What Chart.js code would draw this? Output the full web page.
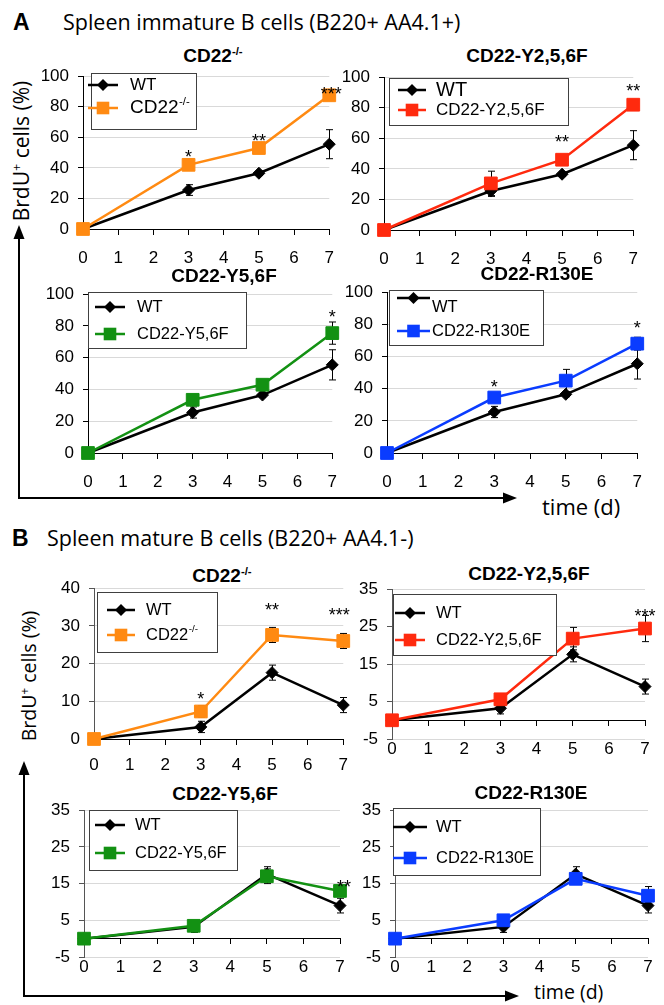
<!DOCTYPE html>
<html>
<head>
<meta charset="utf-8">
<script src="https://cdn.jsdelivr.net/npm/chart.js@4.4.1/dist/chart.umd.min.js"></script>
<style>
body { margin: 0; background: #fff; }
#fig { position: relative; width: 664px; height: 1005px; overflow: hidden; background: #fff; font-family: "Liberation Sans", Arial, sans-serif; color: #000; }
#fig canvas { position: absolute; }
#fig svg { position: absolute; left: 0; top: 0; }
.t { position: absolute; white-space: nowrap; line-height: 1; }
.c { transform: translate(-50%, -50%); }
.l { transform: translateY(-50%); }
.ttl { font-weight: bold; font-size: 19px; }
.ttl sup, .yl sup { font-size: 0.6em; vertical-align: 0.6em; line-height: 0; }
.big { font-weight: bold; font-size: 23px; }
.hd { font-family: "Open Sans", sans-serif; font-size: 21.5px; }
.yl { font-family: "Open Sans", sans-serif; transform: translate(-50%, -50%) rotate(-90deg); }
.tm { font-family: "Open Sans", sans-serif; }
</style>
</head>
<body>
<div id="fig">
  <svg width="664" height="1005">
    <g stroke="#000" stroke-width="2" fill="none">
      <path d="M19 499 V236 M18 498 H506"/>
      <path d="M24 997 V772 M23 996 H508"/>
    </g>
    <g fill="#000">
      <polygon points="19,225 13.5,239 24.5,239"/>
      <polygon points="517,498 503,492.5 503,503.5"/>
      <polygon points="24,761 18.5,775 29.5,775"/>
      <polygon points="519,996 505,990.5 505,1001.5"/>
    </g>
  </svg>
  <div class="t l big" style="left:13px;top:22px">A</div>
  <div class="t l hd" style="left:63px;top:22px">Spleen immature B cells (B220+ AA4.1+)</div>
  <div class="t l big" style="left:12px;top:538px">B</div>
  <div class="t l hd" style="left:47px;top:538px">Spleen mature B cells (B220+ AA4.1-)</div>
  <div class="t yl" style="left:21px;top:151px;font-size:21px">BrdU<sup>+</sup> cells (%)</div>
  <div class="t yl" style="left:29px;top:676px;font-size:19.5px">BrdU<sup>+</sup> cells (%)</div>
  <div class="t l tm" style="left:542px;top:506px;font-size:22px">time (d)</div>
  <div class="t l tm" style="left:534px;top:992px;font-size:19.5px">time (d)</div>
</div>
<script>
// time points and axis ticks
const days = [0, 3, 5, 7];
const xTicks = [0, 1, 2, 3, 4, 5, 6, 7];
const yTicksA = [0, 20, 40, 60, 80, 100];
const yTicksB1 = [0, 10, 20, 30, 40];
const yTicksB = [-5, 5, 15, 25, 35];

// A: immature B cells
const wtA = [0, 25.5, 36.5, 55.5];
const wtAErr = [0, 3.5, 1.5, 9.5];
const koA = [0, 42, 53, 87.5];
const koAErr = [0, 3.5, 1.5, 2.5];
const y256A = [0, 30.5, 46, 82];
const y256AErr = [0, 8, 1.5, 2.5];
const y56A = [0, 33.5, 43, 75.5];
const y56AErr = [0, 3, 2, 7];
const r130A = [0, 34.5, 45, 68];
const r130AErr = [0, 2.5, 7, 4];

// B: mature B cells
const wtB = [0, 3.2, 17.6, 9.0];
const wtBErr = [0, 1.5, 2, 2];
const koB = [0, 7.3, 27.6, 26];
const koBErr = [0, 1.5, 2, 2];
const y256B = [0, 5.6, 21.8, 24.5];
const y256BErr = [0, 0.8, 3, 3.5];
const y56B = [0, 3.5, 17, 13];
const y56BErr = [0, 0.8, 2, 1.5];
const r130B = [0, 5, 16.3, 11.7];
const r130BErr = [0, 0.8, 1.5, 2.5];

// significance marks
const starsKoA = ['', '*', '**', '***'];
const starsY256A = ['', '', '**', '**'];
const starsY56A = ['', '', '', '*'];
const starsR130A = ['', '*', '', '*'];
const starsKoB = ['', '*', '**', '***'];
const starsY256B = ['', '', '', '***'];
const starsY56B = ['', '', '', '**'];
const starsR130B = ['', '', '', ''];

const ORANGE = '#FF8A12', RED = '#FF2A0E', GREEN = '#139113', BLUE = '#0A3CFF';

const panels = [
  { L: 83, R: 339, T: 71, B: 229, min: 0, max: 100, yTicks: yTicksA, tx: 213, ty: 55,
    wt: wtA, wtErr: wtAErr, mut: koA, mutErr: koAErr, stars: starsKoA, label: 'CD22^-/-', color: ORANGE,
    axis: '#000', xPad: 19, starOff: [0, 12, 12, 6], starDx: [0, 0, 0, 2],
    legend: { dx: 8, dy: -3, w: 105, h: 56, sx: -3, sw: 30, tx: 39, rows: [[12, 12, 17], [35, 35, 19]] } },
  { L: 384, R: 643, T: 72, B: 230, min: 0, max: 100, yTicks: yTicksA, tx: 527, ty: 55,
    wt: wtA, wtErr: wtAErr, mut: y256A, mutErr: y256AErr, stars: starsY256A, label: 'CD22-Y2,5,6F', color: RED,
    axis: '#000', xPad: 19, starOff: [0, 0, 22, 18], starDx: [0, 0, 0, 0],
    legend: { dx: 5, dy: 1, w: 179, h: 47, sx: 9, sw: 28, tx: 47, rows: [[12, 12, 20], [32, 32, 17]] } },
  { L: 88, R: 342, T: 289, B: 453, min: 0, max: 100, yTicks: yTicksA, tx: 224, ty: 275,
    wt: wtA, wtErr: wtAErr, mut: y56A, mutErr: y56AErr, stars: starsY56A, label: 'CD22-Y5,6F', color: GREEN,
    axis: '#000', xPad: 19, starOff: [0, 0, 0, 21], starDx: [0, 0, 0, 0],
    legend: { dx: 0, dy: -2, w: 158, h: 56, sx: 7, sw: 30, tx: 49, rows: [[15, 15, 16.5], [42, 42, 16.5]] } },
  { L: 387, R: 647, T: 287, B: 453, min: 0, max: 100, yTicks: yTicksA, tx: 537, ty: 273,
    wt: wtA, wtErr: wtAErr, mut: r130A, mutErr: r130AErr, stars: starsR130A, label: 'CD22-R130E', color: BLUE,
    axis: '#000', xPad: 19, starOff: [0, 15, 0, 20], starDx: [0, 0, 0, 0],
    legend: { dx: 2, dy: -2, w: 154, h: 55, sx: 8, sw: 33, tx: 43, rows: [[8, 17, 16.5], [41, 41, 16.5]] } },
  { L: 94, R: 350, T: 583, B: 739, min: 0, max: 40, yTicks: yTicksB1, tx: 222, ty: 575,
    wt: wtB, wtErr: wtBErr, mut: koB, mutErr: koBErr, stars: starsKoB, label: 'CD22^-/-', color: ORANGE,
    axis: '#555', xPad: 16, starOff: [0, 17, 29, 30], starDx: [0, 0, 0, -4],
    legend: { dx: 3, dy: 4, w: 120, h: 60, sx: 10, sw: 28, tx: 49, rows: [[18, 18, 16.5], [43, 43, 16.5]] } },
  { L: 392, R: 645, T: 584, B: 739, min: -5, max: 35, yTicks: yTicksB, tx: 529, ty: 573,
    wt: wtB, wtErr: wtBErr, mut: y256B, mutErr: y256BErr, stars: starsY256B, label: 'CD22-Y2,5,6F', color: RED,
    axis: '#555', xPad: 0, starOff: [0, 0, 0, 17], starDx: [0, 0, 0, 0],
    legend: { dx: 1, dy: 5, w: 163, h: 61, sx: 2, sw: 30, tx: 43, rows: [[19, 19, 16.5], [46, 46, 16.5]] } },
  { L: 84, R: 340, T: 805, B: 957, min: -5, max: 35, yTicks: yTicksB, tx: 225, ty: 793,
    wt: wtB, wtErr: wtBErr, mut: y56B, mutErr: y56BErr, stars: starsY56B, label: 'CD22-Y5,6F', color: GREEN,
    axis: '#555', xPad: 0, starOff: [0, 0, 0, 8], starDx: [0, 0, 0, 4],
    legend: { dx: 5, dy: 0, w: 148, h: 60, sx: 6, sw: 30, tx: 46, rows: [[15, 15, 16.5], [43, 43, 16.5]] } },
  { L: 395, R: 648, T: 805, B: 957, min: -5, max: 35, yTicks: yTicksB, tx: 531, ty: 792,
    wt: wtB, wtErr: wtBErr, mut: r130B, mutErr: r130BErr, stars: starsR130B, label: 'CD22-R130E', color: BLUE,
    axis: '#555', xPad: 0, starOff: [0, 0, 0, 0], starDx: [0, 0, 0, 0],
    legend: { dx: -2, dy: -2, w: 147, h: 67, sx: 0, sw: 34, tx: 43, rows: [[19, 19, 16.5], [50, 50, 16.5]] } }
];

Chart.defaults.font.family = '"Liberation Sans", Arial, sans-serif';
Chart.defaults.font.size = 17;
Chart.defaults.color = '#000';

function supHtml(s) {
  const parts = s.split('^');
  return parts[0] + (parts[1] ? '<sup>' + parts[1] + '</sup>' : '');
}

// text with optional superscript part after '^'
function drawRich(ctx, s, x, y, size) {
  const parts = s.split('^');
  ctx.textAlign = 'left';
  ctx.textBaseline = 'middle';
  ctx.font = size + 'px "Liberation Sans", Arial, sans-serif';
  ctx.fillText(parts[0], x, y);
  if (parts[1]) {
    const w = ctx.measureText(parts[0]).width;
    ctx.font = (size * 0.6) + 'px "Liberation Sans", Arial, sans-serif';
    ctx.fillText(parts[1], x + w + 0.5, y - size * 0.33);
  }
}

function drawMarker(ctx, style, x, y, color) {
  ctx.fillStyle = color;
  ctx.beginPath();
  if (style === 'rectRot') {
    ctx.moveTo(x - 6, y); ctx.lineTo(x, y - 6); ctx.lineTo(x + 6, y); ctx.lineTo(x, y + 6);
    ctx.closePath();
  } else {
    ctx.rect(x - 6.3, y - 6.3, 12.6, 12.6);
  }
  ctx.fill();
}

function makePlugin(p) {
  return {
    id: 'figExtras',
    beforeDatasetsDraw(chart) {
      const ctx = chart.ctx, xs = chart.scales.x, ys = chart.scales.y;
      ctx.save();
      ctx.strokeStyle = '#000';
      ctx.lineWidth = 1;
      chart.data.datasets.forEach(ds => {
        ds.err.forEach((e, i) => {
          if (!e) return;
          const px = Math.round(xs.getPixelForValue(days[i])) + 0.5;
          const top = ys.getPixelForValue(ds.data[i].y + e);
          const bot = ys.getPixelForValue(ds.data[i].y - e);
          ctx.beginPath();
          ctx.moveTo(px, top); ctx.lineTo(px, bot);
          ctx.moveTo(px - 3.5, top); ctx.lineTo(px + 3.5, top);
          ctx.moveTo(px - 3.5, bot); ctx.lineTo(px + 3.5, bot);
          ctx.stroke();
        });
      });
      ctx.restore();
    },
    afterDatasetsDraw(chart) {
      const ctx = chart.ctx, xs = chart.scales.x, ys = chart.scales.y;
      ctx.save();
      ctx.fillStyle = '#000';
      ctx.font = '18px "Liberation Sans", Arial, sans-serif';
      ctx.textAlign = 'center';
      ctx.textBaseline = 'alphabetic';
      p.stars.forEach((s, i) => {
        if (!s) return;
        const px = xs.getPixelForValue(days[i]) + p.starDx[i];
        const py = ys.getPixelForValue(p.mut[i]) - p.starOff[i];
        ctx.fillText(s, px, py + 10.5);
      });
      ctx.restore();
    },
    afterDraw(chart) {
      const ctx = chart.ctx, lg = p.legend;
      const x0 = Math.round(chart.chartArea.left + lg.dx), y0 = Math.round(chart.chartArea.top + lg.dy);
      ctx.save();
      ctx.fillStyle = '#fff';
      ctx.fillRect(x0, y0, lg.w, lg.h);
      ctx.strokeStyle = '#404040';
      ctx.lineWidth = 1;
      ctx.strokeRect(x0 + 0.5, y0 + 0.5, lg.w, lg.h);
      chart.data.datasets.forEach((ds, i) => {
        const [ly, ty, size] = lg.rows[i];
        const sx = x0 + lg.sx, y = y0 + ly;
        ctx.strokeStyle = ds.borderColor;
        ctx.lineWidth = 2.5;
        ctx.beginPath();
        ctx.moveTo(sx, y); ctx.lineTo(sx + lg.sw, y);
        ctx.stroke();
        drawMarker(ctx, ds.pointStyle, sx + lg.sw / 2, y, ds.borderColor);
        ctx.fillStyle = '#000';
        drawRich(ctx, ds.label, x0 + lg.tx, y0 + ty, size);
      });
      ctx.restore();
    }
  };
}

const fig = document.getElementById('fig');
panels.forEach(p => {
  const title = document.createElement('div');
  title.className = 't c ttl';
  title.style.left = p.tx + 'px';
  title.style.top = p.ty + 'px';
  title.innerHTML = supHtml(p.label);
  fig.appendChild(title);

  const cv = document.createElement('canvas');
  const cl = p.L - 45, ct = p.T - 14;
  const w = p.R - cl + 14, h = p.B - ct + 42;
  cv.width = w; cv.height = h;
  cv.style.left = cl + 'px'; cv.style.top = ct + 'px';
  cv.style.width = w + 'px'; cv.style.height = h + 'px';
  fig.appendChild(cv);

  const pts = vals => days.map((d, i) => ({ x: d, y: vals[i] }));
  new Chart(cv, {
    type: 'line',
    data: {
      datasets: [
        { label: 'WT', data: pts(p.wt), err: p.wtErr, order: 1, xAxisID: 'x', yAxisID: 'y',
          borderColor: '#000', backgroundColor: '#000', pointStyle: 'rectRot', pointRadius: 6,
          pointBorderWidth: 1, borderWidth: 2.5, tension: 0, clip: false },
        { label: p.label, data: pts(p.mut), err: p.mutErr, order: 0, xAxisID: 'x', yAxisID: 'y',
          borderColor: p.color, backgroundColor: p.color, pointStyle: 'rect', pointRadius: 9,
          pointBorderWidth: 1, borderWidth: 2.5, tension: 0, clip: false }
      ]
    },
    options: {
      responsive: false,
      animation: false,
      events: [],
      layout: { padding: { left: 0, top: 14, right: 14, bottom: 2 } },
      plugins: { legend: { display: false }, tooltip: { enabled: false }, title: { display: false } },
      scales: {
        x: {
          type: 'linear', position: { y: 0 }, min: 0, max: 7,
          ticks: { display: false, stepSize: 1 },
          grid: { drawOnChartArea: false, drawTicks: true, tickLength: 5, tickColor: '#000', lineWidth: 1 },
          border: { display: true, color: '#000', width: 1 }
        },
        xb: {
          axis: 'x', type: 'linear', position: 'bottom', min: 0, max: 7,
          afterBuildTicks: s => { s.ticks = xTicks.map(v => ({ value: v })); },
          afterFit: s => { s.height = 40; },
          ticks: { padding: p.xPad, maxRotation: 0, autoSkip: false },
          grid: { display: false, drawTicks: false },
          border: { display: false }
        },
        y: {
          type: 'linear', position: 'left', min: p.min, max: p.max,
          afterBuildTicks: s => { s.ticks = p.yTicks.map(v => ({ value: v })); },
          afterFit: s => { s.width = 45; },
          ticks: { padding: 9 },
          grid: {
            color: c => (c.tick && c.tick.value === 0) ? 'rgba(0,0,0,0)' : '#d9d9d9',
            lineWidth: 1, drawTicks: true, tickLength: 5, tickColor: p.axis
          },
          border: { display: true, color: p.axis, width: 1 }
        }
      }
    },
    plugins: [makePlugin(p)]
  });
});
</script>
</body>
</html>
